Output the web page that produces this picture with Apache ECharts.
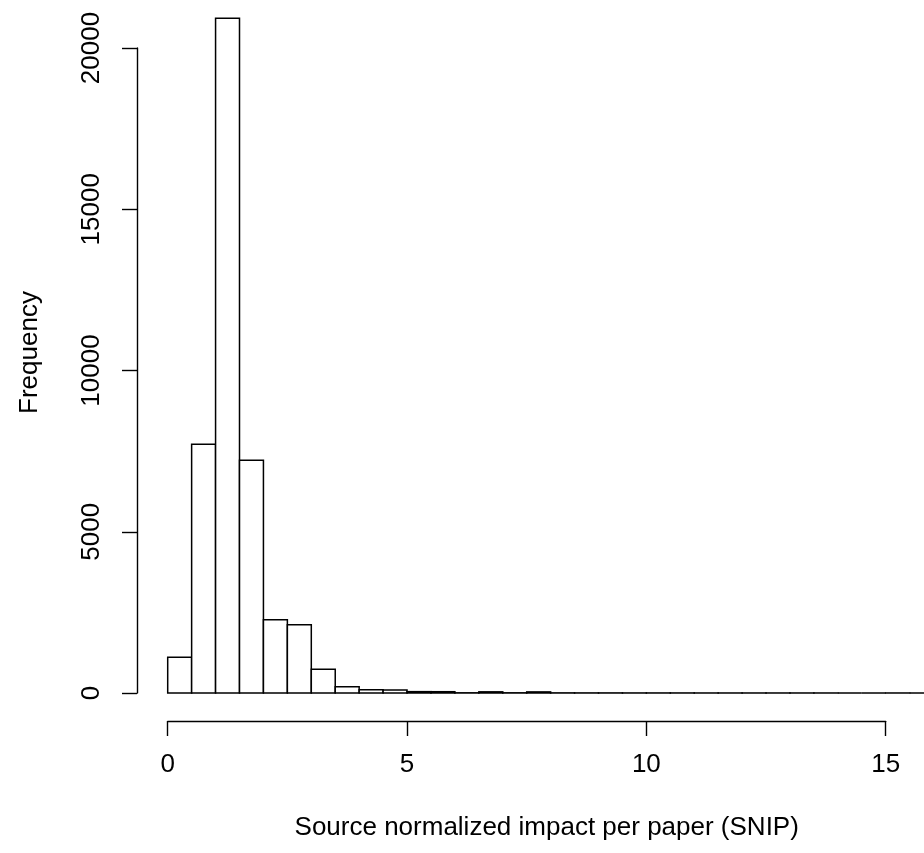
<!DOCTYPE html>
<html>
<head>
<meta charset="utf-8">
<script src="https://cdn.jsdelivr.net/npm/echarts@6/dist/echarts.min.js"></script>
<style>
  html, body { margin: 0; padding: 0; background: #ffffff; }
  #chart { width: 924px; height: 853px; }
</style>
</head>
<body>
<div id="chart"></div>
<script>
// Histogram of SNIP values, bins of width 0.5
const binStarts = [0, 0.5, 1, 1.5, 2, 2.5, 3, 3.5, 4, 4.5, 5, 5.5, 6, 6.5, 7, 7.5,
                   8, 8.5, 9, 9.5, 10, 10.5, 11, 11.5, 12, 12.5, 13, 13.5, 14, 14.5,
                   15, 15.5, 16, 16.5];
const binWidth = 0.5;
const frequencies = [1110, 7710, 20920, 7215, 2270, 2120, 735, 195, 100, 90, 42, 40,
                     6, 36, 6, 34, 4, 3, 3, 2, 2, 2, 1, 1, 1, 1, 1, 1, 0, 0,
                     1, 0, 0, 1];
const xTicks = [0, 5, 10, 15];
const yTicks = [0, 5000, 10000, 15000, 20000];

const bars = binStarts.map((s, i) => [s, s + binWidth, frequencies[i]]);

const chart = echarts.init(document.getElementById('chart'), null, { renderer: 'canvas' });
const fontFamily = '"Liberation Sans", Arial, Helvetica, sans-serif';
const fontSize = 26;
const plain = v => String(v);

chart.setOption({
  backgroundColor: '#ffffff',
  animation: false,
  grid: { left: 167.7, right: 38.3, top: 48, bottom: 160, containLabel: false },
  xAxis: {
    type: 'value',
    min: xTicks[0],
    max: xTicks[xTicks.length - 1],
    interval: 5,
    offset: 28,
    splitLine: { show: false },
    axisLine: { show: true, onZero: false, lineStyle: { color: '#000', width: 1.4 } },
    axisTick: { show: true, length: 15, lineStyle: { color: '#000', width: 1.4 } },
    axisLabel: { color: '#000', fontSize, fontFamily, margin: 31, formatter: plain },
    name: 'Source normalized impact per paper (SNIP)',
    nameLocation: 'middle',
    nameGap: 94,
    nameTextStyle: { color: '#000', fontSize, fontFamily, padding: [0, 0, 0, 40] }
  },
  yAxis: {
    type: 'value',
    min: yTicks[0],
    max: yTicks[yTicks.length - 1],
    interval: 5000,
    offset: 30.7,
    splitLine: { show: false },
    axisLine: { show: true, onZero: false, lineStyle: { color: '#000', width: 1.4 } },
    axisTick: { show: true, length: 15, lineStyle: { color: '#000', width: 1.4 } },
    axisLabel: { color: '#000', fontSize, fontFamily, rotate: 90, margin: 45,
                 verticalAlign: 'middle', align: 'center', formatter: plain },
    name: 'Frequency',
    nameLocation: 'middle',
    nameGap: 94,
    nameRotate: 90,
    nameTextStyle: { color: '#000', fontSize, fontFamily, padding: [0, 0, 0, 36] }
  },
  series: [{
    type: 'custom',
    clip: false,
    data: bars,
    encode: { x: [0, 1], y: 2 },
    renderItem: function (params, api) {
      const p0 = api.coord([api.value(0), api.value(2)]);
      const p1 = api.coord([api.value(1), 0]);
      return {
        type: 'rect',
        shape: { x: p0[0], y: p0[1], width: p1[0] - p0[0], height: p1[1] - p0[1] },
        style: { fill: '#ffffff', stroke: '#000000', lineWidth: 1.5 }
      };
    }
  }]
});
</script>
</body>
</html>
